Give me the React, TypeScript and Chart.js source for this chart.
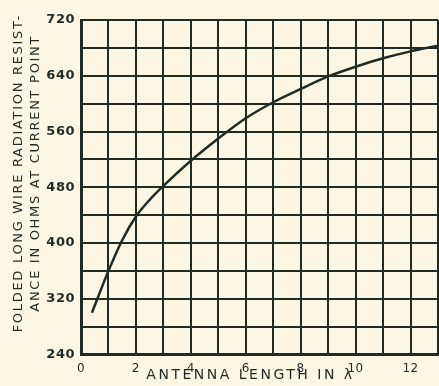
import React, { useEffect, useRef } from "react";
import { Chart, registerables } from "chart.js";

Chart.register(...registerables);

const antennaLength = [0.4, 1, 1.5, 2, 2.5, 3, 4, 5, 6, 7, 8, 9, 10, 11, 12, 13];
const resistance = [300, 360, 404, 438, 462, 482, 518, 550, 579, 602, 621, 639, 653, 665, 675, 683];
const yTickLabels = [240, 320, 400, 480, 560, 640, 720];
const xTickLabels = [0, 2, 4, 6, 8, 10, 12];
const yTitleLines = ["FOLDED LONG WIRE RADIATION RESIST-", "ANCE IN OHMS AT CURRENT POINT"];
const xTitle = "ANTENNA LENGTH IN λ";

const INK = "#1f2b25";
const BG = "#fbf7e2";

export default function App() {
  const ref = useRef<HTMLCanvasElement | null>(null);

  useEffect(() => {
    if (!ref.current) return;
    const titleStyle: Record<string, { spacing: string; dx: number; dy: number }> = {
      x: { spacing: "2.5px", dx: -9, dy: 0 },
      y: { spacing: "1.7px", dx: 0, dy: -14 },
    };
    const spacing = {
      id: "spacing",
      beforeDraw(chart: any) {
        const ctx = chart.ctx;
        ctx.save();
        ctx.fillStyle = BG;
        ctx.fillRect(0, 0, chart.width, chart.height);
        ctx.restore();
        (ctx as any).letterSpacing = "0.5px";
        Object.keys(titleStyle).forEach((id) => {
          const scale = chart.scales[id];
          if (!scale || scale._titlePatched) return;
          const orig = scale.drawTitle.bind(scale);
          scale.drawTitle = function () {
            const c = this.ctx;
            const st = titleStyle[id];
            c.save();
            c.letterSpacing = st.spacing;
            c.translate(st.dx, st.dy);
            orig();
            c.restore();
          };
          scale._titlePatched = true;
        });
      },
      afterDraw(chart: any) {
        (chart.ctx as any).letterSpacing = "0px";
      },
    };
    const chart = new Chart(ref.current, {
      type: "line",
      data: {
        datasets: [
          {
            data: antennaLength.map((x, i) => ({ x, y: resistance[i] })),
            borderColor: INK,
            borderWidth: 2.5,
            pointRadius: 0,
            pointHoverRadius: 0,
            cubicInterpolationMode: "monotone",
            fill: false,
            clip: false,
          },
        ],
      },
      options: {
        animation: false,
        responsive: false,
        devicePixelRatio: 1,
        layout: { autoPadding: false, padding: { top: 20, right: 1, left: 10, bottom: 0 } },
        plugins: { legend: { display: false }, tooltip: { enabled: false } },
        scales: {
          x: {
            type: "linear",
            min: 0,
            max: 13,
            ticks: {
              stepSize: 1,
              color: INK,
              padding: 7,
              font: { family: "DejaVu Sans", size: 12 },
              maxRotation: 0,
              autoSkip: false,
              callback: (v: any) => (xTickLabels.includes(Number(v)) ? String(v) : ""),
            },
            grid: { color: INK, lineWidth: 2, drawTicks: false },
            border: { color: INK, width: 3 },
            title: {
              display: true,
              text: xTitle,
              color: INK,
              font: { family: "DejaVu Sans", size: 14 },
              padding: { top: -3, bottom: 2 },
            },
            afterFit: (s: any) => {
              s.height = 31.5;
              s.paddingRight = 0;
              s.paddingLeft = 0;
            },
          },
          y: {
            min: 240,
            max: 720,
            ticks: {
              stepSize: 40,
              color: INK,
              padding: 6,
              font: { family: "DejaVu Sans", size: 13, weight: "bold" },
              autoSkip: false,
              callback: (v: any) => (yTickLabels.includes(Number(v)) ? String(v) : ""),
            },
            grid: { color: INK, lineWidth: 2, drawTicks: false },
            border: { color: INK, width: 3 },
            title: {
              display: true,
              text: yTitleLines,
              color: INK,
              font: { family: "DejaVu Sans", size: 13, lineHeight: 1.3 },
              padding: { top: 0, bottom: 2 },
            },
            afterFit: (s: any) => {
              s.width = 71;
              s.paddingTop = 0;
              s.paddingBottom = 0;
            },
          },
        },
      } as any,
      plugins: [spacing],
    });
    return () => chart.destroy();
  }, []);

  return (
    <div style={{ position: "fixed", left: 0, top: 0, width: 439, height: 386, background: BG }}>
      <canvas ref={ref} width={439} height={386} style={{ display: "block" }} />
    </div>
  );
}
